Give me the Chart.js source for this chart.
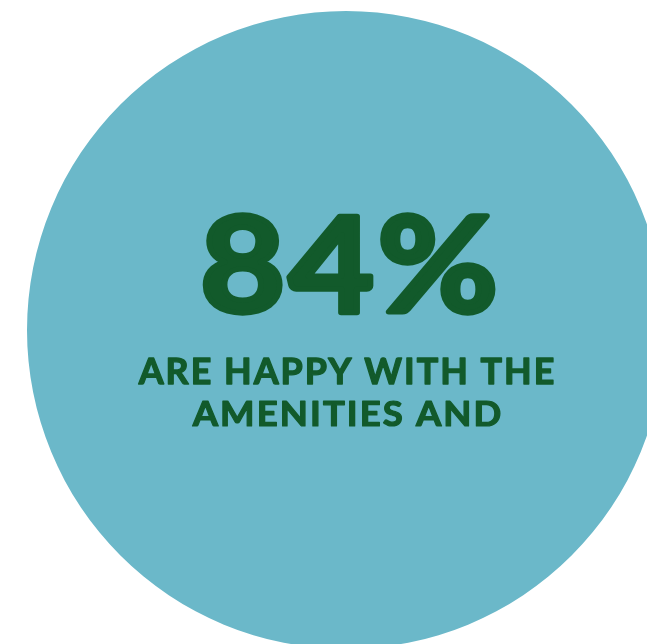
<!DOCTYPE html>
<html>
<head>
<meta charset="utf-8">
<script src="https://cdn.jsdelivr.net/npm/chart.js@4"></script>
<style>
  html, body { margin: 0; padding: 0; background: #ffffff; overflow: hidden; width: 647px; height: 644px; }
  #wrap { position: absolute; left: 27px; top: 11px; width: 638px; height: 638px; }
</style>
</head>
<body>
<div id="wrap"><canvas id="c"></canvas></div>
<script>
// Data
const categories = ["Happy with the amenities"];
const shareValues = [84];
const ringValues = [100];
const headline = shareValues[0] + "%";
const captionLines = ["ARE HAPPY WITH THE", "AMENITIES AND"];

const circleColor = "#6bb8c9";
const textColor = "#125a2b";

function drawFitted(ctx, text, cx, baseline, size, targetW, stroke, spacing) {
  ctx.font = "bold " + size + "px Lato, 'DejaVu Sans', sans-serif";
  ctx.letterSpacing = spacing + "px";
  const w = ctx.measureText(text).width - spacing;
  const sx = (targetW - stroke) / w;
  ctx.save();
  ctx.translate(cx + (spacing * sx) / 2, baseline - stroke / 2);
  ctx.scale(sx, 1);
  ctx.textAlign = "center";
  ctx.textBaseline = "alphabetic";
  ctx.lineJoin = "round";
  ctx.lineWidth = stroke / sx;
  ctx.fillText(text, 0, 0);
  ctx.strokeText(text, 0, 0);
  ctx.restore();
  ctx.letterSpacing = "0px";
}

const textPlugin = {
  id: "centerText",
  afterDraw(chart) {
    const ctx = chart.ctx;
    const a = chart.chartArea;
    const cx = (a.left + a.right) / 2;
    const cy = (a.top + a.bottom) / 2;
    ctx.save();
    ctx.fillStyle = textColor;
    ctx.strokeStyle = textColor;
    drawFitted(ctx, headline, cx + 3, cy - 15, 133, 304, 6, 3);
    drawFitted(ctx, captionLines[0], cx + 0.5, cy + 55, 36, 417, 1.3, 2);
    drawFitted(ctx, captionLines[1], cx + 1, cy + 97, 35, 310, 1.3, 2);
    ctx.restore();
  }
};

new Chart(document.getElementById("c"), {
  type: "pie",
  data: {
    labels: categories,
    datasets: [{
      data: ringValues,
      backgroundColor: [circleColor],
      borderWidth: 0,
      hoverOffset: 0
    }]
  },
  options: {
    responsive: true,
    maintainAspectRatio: false,
    animation: false,
    layout: { padding: 0 },
    plugins: { legend: { display: false }, tooltip: { enabled: false }, title: { display: false } },
    events: []
  },
  plugins: [textPlugin]
});
</script>
</body>
</html>
